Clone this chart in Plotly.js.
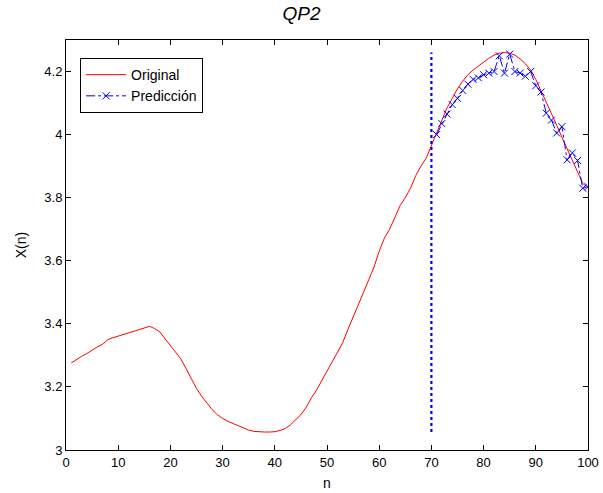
<!DOCTYPE html>
<html>
<head>
<meta charset="utf-8">
<script src="https://cdn.plot.ly/plotly-3.0.1.min.js"></script>
<style>html,body{margin:0;padding:0;background:#fff;}#chart{width:603px;height:493px;}</style>
</head>
<body>
<div id="chart"></div>
<script>
// Original series, n = 1..100
const nOriginal = Array.from({length: 100}, (_, i) => i + 1);
const original = [
  3.276, 3.287, 3.297, 3.306, 3.317, 3.327, 3.335, 3.350, 3.356, 3.361,
  3.367, 3.372, 3.376, 3.383, 3.388, 3.392, 3.385, 3.374, 3.352, 3.332,
  3.312, 3.289, 3.258, 3.225, 3.195, 3.170, 3.148, 3.128, 3.112, 3.100,
  3.091, 3.083, 3.077, 3.070, 3.063, 3.059, 3.057, 3.057, 3.057, 3.058,
  3.062, 3.068, 3.080, 3.095, 3.112, 3.135, 3.165, 3.190, 3.220, 3.250,
  3.283, 3.310, 3.340, 3.382, 3.420, 3.458, 3.500, 3.540, 3.580, 3.630,
  3.672, 3.700, 3.740, 3.775, 3.800, 3.830, 3.870, 3.900, 3.925, 3.965,
  4.005, 4.045, 4.085, 4.115, 4.145, 4.170, 4.190, 4.205, 4.218, 4.230,
  4.242, 4.252, 4.258, 4.260, 4.258, 4.252, 4.240, 4.225, 4.205, 4.175,
  4.140, 4.105, 4.068, 4.030, 3.992, 3.955, 3.918, 3.880, 3.845, 3.832
];
// Prediction series, n = 71..100
const nPred = Array.from({length: 30}, (_, i) => i + 71);
const prediction = [
  4.000, 4.035, 4.065, 4.095, 4.115, 4.140, 4.160, 4.175, 4.180, 4.190,
  4.195, 4.200, 4.250, 4.195, 4.255, 4.200, 4.195, 4.185, 4.200, 4.155,
  4.135, 4.068, 4.046, 4.005, 4.025, 3.920, 3.942, 3.918, 3.830, 3.835
];
// Split marker at n = 70
const splitN = 70;

const xTicks = [0, 10, 20, 30, 40, 50, 60, 70, 80, 90, 100];
const yTicks = [3, 3.2, 3.4, 3.6, 3.8, 4, 4.2];

const font = {family: 'Arial, "Liberation Sans", sans-serif', size: 13, color: '#000'};

const traces = [
  {
    x: nOriginal, y: original, type: 'scatter', mode: 'lines', name: 'Original',
    line: {color: '#ff0000', width: 1}
  },
  {
    x: nPred, y: prediction, type: 'scatter', mode: 'lines+markers', name: 'Predicción',
    line: {color: '#0000ff', width: 1, dash: 'dashdot'},
    marker: {symbol: 'x-thin', size: 7, color: '#0000ff', line: {color: '#0000ff', width: 1}}
  },
  {
    x: [splitN, splitN], y: [Math.min(...original), Math.max(...original)],
    type: 'scatter', mode: 'lines', showlegend: false, hoverinfo: 'skip',
    line: {color: '#0000ff', width: 2.2, dash: 'dot'}
  }
];

const axisCommon = {
  showgrid: false, zeroline: false, showline: true, linecolor: '#000', linewidth: 1,
  mirror: 'ticks', ticks: 'inside', ticklen: 5, tickcolor: '#000', tickwidth: 1,
  tickfont: {family: font.family, size: 13, color: '#000'}
};

const layout = {
  width: 603, height: 493,
  margin: {l: 66, r: 15, t: 40, b: 43},
  paper_bgcolor: '#fff', plot_bgcolor: '#fff',
  font: font,
  title: {
    text: 'QP2', x: 0.5, xanchor: 'center', y: 0.972, yanchor: 'middle', yref: 'container',
    font: {family: font.family, size: 19, color: '#000', style: 'italic'}
  },
  xaxis: Object.assign({}, axisCommon, {
    range: [0, 100], tickvals: xTicks, ticktext: xTicks.map(String),
    title: {text: 'n', font: {family: font.family, size: 14, color: '#000'}, standoff: 9}
  }),
  yaxis: Object.assign({}, axisCommon, {
    range: [3, 4.3], tickvals: yTicks, ticktext: yTicks.map(String),
    title: {text: 'X(n)', font: {family: font.family, size: 14, color: '#000'}, standoff: 14}
  }),
  showlegend: true,
  legend: {
    x: 0.027, y: 0.956, xanchor: 'left', yanchor: 'top',
    bgcolor: '#fff', bordercolor: '#000', borderwidth: 1,
    font: {family: font.family, size: 14, color: '#000'},
    itemwidth: 40, tracegroupgap: 0
  }
};

Plotly.newPlot('chart', traces, layout, {staticPlot: true, displayModeBar: false});
</script>
</body>
</html>
